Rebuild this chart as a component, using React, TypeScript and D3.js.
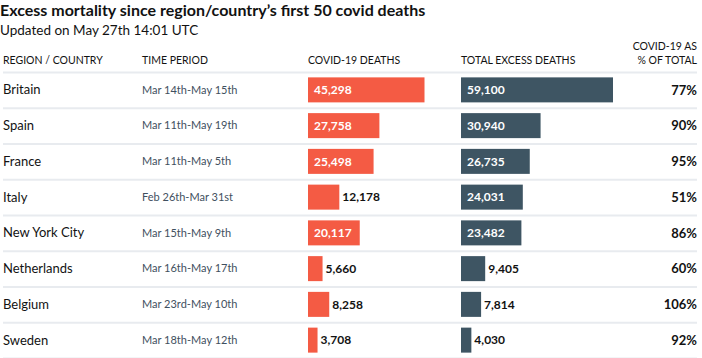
import { useEffect, useRef } from "react";
import * as d3 from "d3";

const regions = [
  "Britain",
  "Spain",
  "France",
  "Italy",
  "New York City",
  "Netherlands",
  "Belgium",
  "Sweden",
];
const periods = [
  "Mar 14th-May 15th",
  "Mar 11th-May 19th",
  "Mar 11th-May 5th",
  "Feb 26th-Mar 31st",
  "Mar 15th-May 9th",
  "Mar 16th-May 17th",
  "Mar 23rd-May 10th",
  "Mar 18th-May 12th",
];
const covidDeaths = [45298, 27758, 25498, 12178, 20117, 5660, 8258, 3708];
const excessDeaths = [59100, 30940, 26735, 24031, 23482, 9405, 7814, 4030];
const shareOfTotal = ["77%", "90%", "95%", "51%", "86%", "60%", "106%", "92%"];

const W = 702;
const H = 358;
const FONT = "Lato, 'Open Sans', sans-serif";
const RED = "#f45b44";
const SLATE = "#3e5563";

export default function App() {
  const svgRef = useRef<SVGSVGElement>(null);

  useEffect(() => {
    if (!svgRef.current) return;
    const svg = d3.select(svgRef.current);
    svg.selectAll("*").remove();
    svg.style("font-family", FONT);

    const rows = regions.map((name, i) => ({
      name,
      period: periods[i],
      covid: covidDeaths[i],
      excess: excessDeaths[i],
      share: shareOfTotal[i],
    }));

    const y = d3
      .scaleBand()
      .domain(regions)
      .range([72, 358])
      .padding(0);

    const x = d3
      .scaleLinear()
      .domain([0, d3.max(excessDeaths) || 0])
      .range([0, 152]);

    const covidX = 308;
    const excessX = 461;
    const barH = 25;

    // 标题
    svg
      .append("text")
      .attr("x", 0)
      .attr("y", 16)
      .style("font-size", "16px")
      .style("font-weight", "700")
      .style("fill", "#121212")
      .text("Excess mortality since region/country’s first 50 covid deaths");

    svg
      .append("text")
      .attr("x", 0)
      .attr("y", 35)
      .style("font-size", "13.5px")
      .style("fill", "#121212")
      .text("Updated on May 27th 14:01 UTC");

    // 表头
    const head = svg
      .append("g")
      .style("font-size", "10.5px")
      .style("fill", "#121212");
    head.append("text").attr("x", 3).attr("y", 64).text("REGION / COUNTRY");
    head.append("text").attr("x", 142).attr("y", 64).text("TIME PERIOD");
    head.append("text").attr("x", covidX).attr("y", 64).text("COVID-19 DEATHS");
    head
      .append("text")
      .attr("x", excessX)
      .attr("y", 64)
      .text("TOTAL EXCESS DEATHS");
    head
      .append("text")
      .attr("x", 697)
      .attr("y", 50)
      .attr("text-anchor", "end")
      .text("COVID-19 AS");
    head
      .append("text")
      .attr("x", 697)
      .attr("y", 64)
      .attr("text-anchor", "end")
      .text("% OF TOTAL");

    // 分隔线
    const lines = [72, ...rows.map((d) => (y(d.name) || 0) + y.bandwidth())];
    svg
      .selectAll(".sep")
      .data(lines)
      .enter()
      .append("line")
      .attr("x1", 3)
      .attr("x2", 697)
      .attr("y1", (d) => d + 0.5)
      .attr("y2", (d) => d + 0.5)
      .style("stroke", "#e8ebef")
      .style("stroke-width", 2);

    const row = svg
      .selectAll(".row")
      .data(rows)
      .enter()
      .append("g")
      .attr("transform", (d) => `translate(0,${(y(d.name) || 0) + y.bandwidth() / 2})`);

    row
      .append("text")
      .attr("x", 3)
      .attr("dy", "0.35em")
      .style("font-size", "13px")
      .style("fill", "#121212")
      .text((d) => d.name);

    row
      .append("text")
      .attr("x", 142)
      .attr("dy", "0.35em")
      .style("font-size", "11px")
      .style("fill", "#3f5060")
      .text((d) => d.period);

    const drawBars = (
      key: "covid" | "excess",
      x0: number,
      color: string,
    ) => {
      row
        .append("rect")
        .attr("x", x0)
        .attr("y", -barH / 2)
        .attr("width", (d) => x(d[key]))
        .attr("height", barH)
        .attr("fill", color);

      row
        .append("text")
        .attr("x", (d) => (x(d[key]) > 45 ? x0 + 6 : x0 + x(d[key]) + 3))
        .attr("dy", "0.36em")
        .style("font-size", "12px")
        .style("font-weight", "700")
        .style("fill", (d) => (x(d[key]) > 45 ? "#ffffff" : "#121212"))
        .text((d) => d3.format(",")(d[key]));
    };

    drawBars("covid", covidX, RED);
    drawBars("excess", excessX, SLATE);

    row
      .append("text")
      .attr("x", 697)
      .attr("dy", "0.36em")
      .attr("text-anchor", "end")
      .style("font-size", "13px")
      .style("font-weight", "700")
      .style("fill", "#121212")
      .text((d) => d.share);
  }, []);

  return (
    <svg
      ref={svgRef}
      width={W}
      height={H}
      viewBox={`0 0 ${W} ${H}`}
      style={{ position: "absolute", left: 0, top: 0, background: "#fff" }}
    />
  );
}
